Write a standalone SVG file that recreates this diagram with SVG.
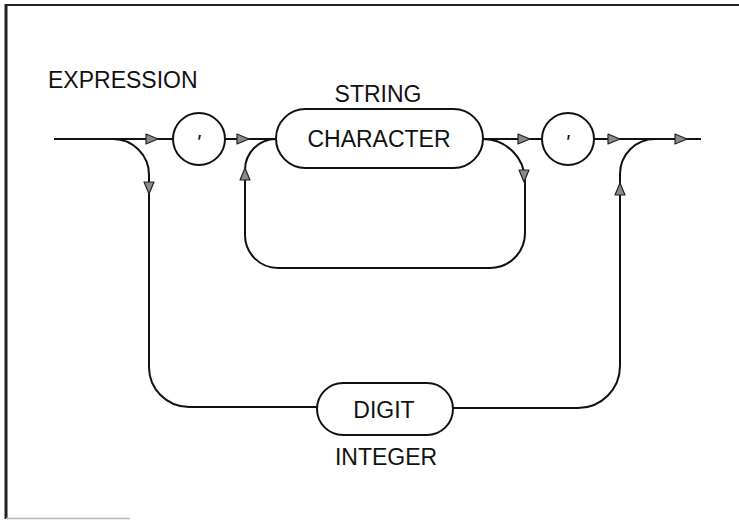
<svg xmlns="http://www.w3.org/2000/svg" width="739" height="520" viewBox="0 0 739 520">
<style>
.ln{fill:none;stroke:#111;stroke-width:2}
.nd{fill:#fff;stroke:#111;stroke-width:2}
.tx{font-family:"Liberation Sans",Arial,sans-serif;font-size:23px;fill:#111}
.mk{font-family:"Liberation Sans",Arial,sans-serif;font-size:22px;font-style:italic;fill:#111;text-anchor:middle}
</style>
<defs>
<path id="ah" d="M-6,-5 L6,0 L-6,5 Z" fill="#8a8a8a" stroke="#222" stroke-width="1.2" stroke-linejoin="round"/>
</defs>
<rect width="739" height="520" fill="#fff"/>
<g id="frame">
<line x1="5" y1="5" x2="739" y2="5" stroke="#222" stroke-width="2"/>
<line x1="6" y1="4" x2="6" y2="519" stroke="#222" stroke-width="3"/>
<line x1="6" y1="518.5" x2="130" y2="518.5" stroke="#bbb" stroke-width="1.5"/>
</g>
<text id="title" class="tx" x="48" y="88">EXPRESSION</text>
<g id="connectors">
<path class="ln" d="M54,139 H173"/>
<path class="ln" d="M225,139 H276"/>
<path class="ln" d="M483,139 H542"/>
<path class="ln" d="M594,139 H701"/>
<path class="ln" d="M113,139 A36,36 0 0 1 149,175 V367 A40,40 0 0 0 189,407 H317"/>
<path class="ln" d="M453,408 H578 A42,42 0 0 0 620,366 V174 A35,35 0 0 1 655,139"/>
<path class="ln" d="M276,139 A31,31 0 0 0 245,170 V235 A33,33 0 0 0 278,268 H490 A35,35 0 0 0 525,233 V181 A42,42 0 0 0 483,139"/>
<use href="#ah" transform="translate(152,139)"/>
<use href="#ah" transform="translate(243,139)"/>
<use href="#ah" transform="translate(524,139)"/>
<use href="#ah" transform="translate(614,139)"/>
<use href="#ah" transform="translate(681,139)"/>
<use href="#ah" transform="translate(149,188) rotate(90)"/>
<use href="#ah" transform="translate(245,174) rotate(-90)"/>
<use href="#ah" transform="translate(524,176) rotate(90)"/>
<use href="#ah" transform="translate(620,189) rotate(-90)"/>
</g>
<g id="quote1">
<circle class="nd" cx="199" cy="139" r="26"/>
<text class="mk" x="198" y="150">'</text>
</g>
<g id="character">
<rect class="nd" x="276" y="109" width="207" height="59" rx="29.5"/>
<text class="tx" x="379" y="147" text-anchor="middle">CHARACTER</text>
<text class="tx" x="378" y="102" text-anchor="middle">STRING</text>
</g>
<g id="quote2">
<circle class="nd" cx="568" cy="139" r="26"/>
<text class="mk" x="567" y="150">'</text>
</g>
<g id="digit">
<rect class="nd" x="317" y="383" width="136" height="52" rx="26"/>
<text class="tx" x="384" y="418" text-anchor="middle">DIGIT</text>
<text class="tx" x="386" y="465" text-anchor="middle">INTEGER</text>
</g>
</svg>
